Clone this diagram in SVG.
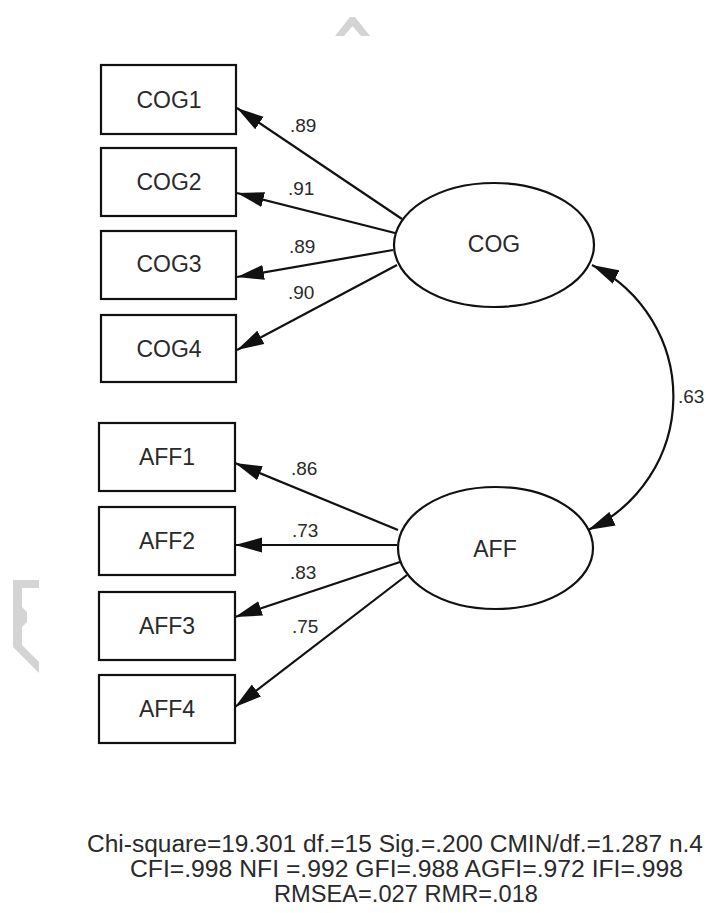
<svg xmlns="http://www.w3.org/2000/svg" width="706" height="913" viewBox="0 0 706 913">
<style>
  .box { fill: #fff; stroke: #111; stroke-width: 2.2; }
  .lat { fill: #fff; stroke: #111; stroke-width: 2.2; }
  .lbl { font-family: "Liberation Sans", Arial, sans-serif; font-size: 23px; fill: #2a2a2a; text-anchor: middle; }
  .coef { font-family: "Liberation Sans", Arial, sans-serif; font-size: 19px; fill: #2a2a2a; }
  .fit { font-family: "Liberation Sans", Arial, sans-serif; font-size: 23px; fill: #2a2a2a; }
  .edge { fill: none; stroke: #111; stroke-width: 2.2; marker-end: url(#arr); }
  .wm { fill: #d4d4d4; }
</style>
<defs>
  <marker id="arr" markerUnits="userSpaceOnUse" markerWidth="28" markerHeight="16" refX="27" refY="7.5" orient="auto-start-reverse" viewBox="0 0 28 15">
    <path d="M0,0 L27,7.5 L0,15 z" fill="#111"/>
  </marker>
</defs>
<rect width="706" height="913" fill="#fff"/>

<g id="watermark">
  <polygon class="wm" points="335,36 350,17 355,17 370,36 361,36 352.5,26 344,36"/>
  <polygon class="wm" points="13,580 39,580 39,588 22,588 22,607 27,612 27,622 22,627 22,645 39,662 39,673 13,647"/>
</g>

<g id="connectors">
  <path class="edge" d="M402,219 L237,108"/>
  <path class="edge" d="M395,233 L237,193"/>
  <path class="edge" d="M393,250 L237,277"/>
  <path class="edge" d="M397,265 L237,350"/>
  <path class="edge" d="M398,530 L235,463"/>
  <path class="edge" d="M397,545 L235,545"/>
  <path class="edge" d="M400,562 L235,617"/>
  <path class="edge" d="M407,575 L235,707"/>
  <path class="edge" style="marker-start:url(#arr)" d="M592,265 A147,147 0 0 1 588,530"/>
</g>

<g id="COG1"><rect class="box" x="101" y="65" width="135" height="69"/><text class="lbl" x="169" y="108">COG1</text></g>
<g id="COG2"><rect class="box" x="101" y="148" width="135" height="68"/><text class="lbl" x="169" y="190">COG2</text></g>
<g id="COG3"><rect class="box" x="101" y="231" width="135" height="68"/><text class="lbl" x="169" y="272">COG3</text></g>
<g id="COG4"><rect class="box" x="101" y="315" width="135" height="67"/><text class="lbl" x="169" y="357">COG4</text></g>

<g id="AFF1"><rect class="box" x="99" y="423" width="136" height="68"/><text class="lbl" x="167" y="465">AFF1</text></g>
<g id="AFF2"><rect class="box" x="99" y="507" width="136" height="68"/><text class="lbl" x="167" y="549">AFF2</text></g>
<g id="AFF3"><rect class="box" x="99" y="592" width="136" height="68"/><text class="lbl" x="167" y="634">AFF3</text></g>
<g id="AFF4"><rect class="box" x="99" y="675" width="136" height="68"/><text class="lbl" x="167" y="717">AFF4</text></g>

<g id="COG"><ellipse class="lat" cx="494" cy="245" rx="100" ry="62"/><text class="lbl" x="494" y="252">COG</text></g>
<g id="AFF"><ellipse class="lat" cx="495.5" cy="548" rx="97.5" ry="61"/><text class="lbl" x="495" y="557">AFF</text></g>

<g id="coefficients">
  <text class="coef" x="290" y="132">.89</text>
  <text class="coef" x="288" y="195">.91</text>
  <text class="coef" x="289" y="253">.89</text>
  <text class="coef" x="288" y="299">.90</text>
  <text class="coef" x="291" y="475">.86</text>
  <text class="coef" x="292" y="537">.73</text>
  <text class="coef" x="290" y="579">.83</text>
  <text class="coef" x="292" y="633">.75</text>
  <text class="coef" x="678" y="403">.63</text>
</g>

<g id="fit">
  <text class="fit" x="87" y="852" textLength="616" lengthAdjust="spacingAndGlyphs">Chi-square=19.301 df.=15 Sig.=.200 CMIN/df.=1.287 n.4</text>
  <text class="fit" x="130" y="877" textLength="553" lengthAdjust="spacingAndGlyphs">CFI=.998 NFI =.992 GFI=.988 AGFI=.972 IFI=.998</text>
  <text class="fit" x="406" y="902" text-anchor="middle" textLength="264" lengthAdjust="spacingAndGlyphs">RMSEA=.027 RMR=.018</text>
</g>
</svg>
